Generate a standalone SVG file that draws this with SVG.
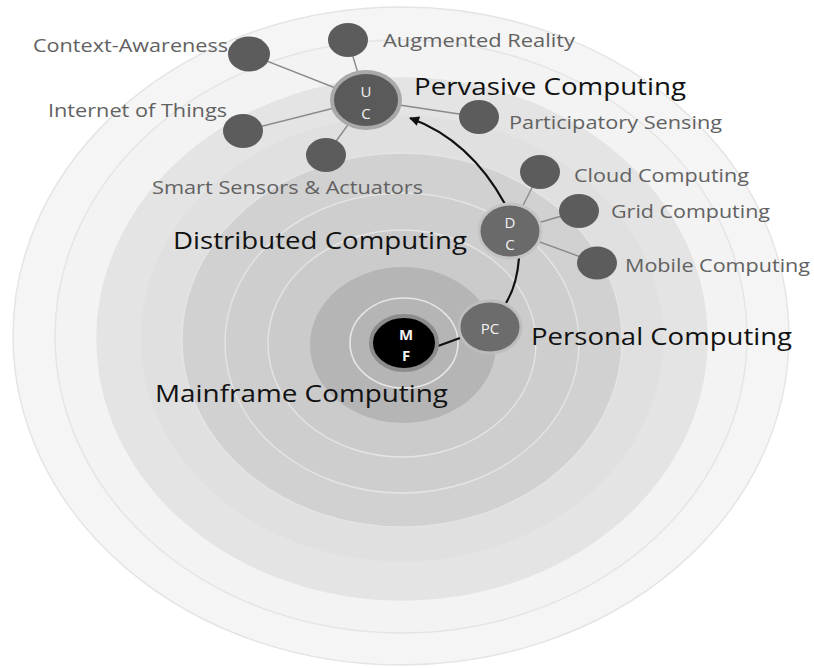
<svg xmlns="http://www.w3.org/2000/svg" width="814" height="668" viewBox="0 0 814 668">
<style>
.ring{stroke:#e4e4e4;stroke-width:1.4}
.sat{fill:#5c5c5c}
.con{stroke:#8a8a8a;stroke-width:1.4;fill:none}
.arc{stroke:#111;stroke-width:2.2;fill:none}
.lbl{font-family:"Open Sans",Lato,sans-serif;font-size:18.5px;fill:#626262}
.big{font-family:"Open Sans",Lato,sans-serif;font-size:23px;fill:#111}
.nt{font-family:"Open Sans",Lato,sans-serif;font-size:15px;fill:#f2f2f2;text-anchor:middle}
</style>
<defs>
<marker id="ah" viewBox="0 0 10 10" refX="9" refY="5" markerUnits="userSpaceOnUse" markerWidth="12" markerHeight="10" orient="auto">
<path d="M0,0 L10,5 L0,10 z" fill="#111"/>
</marker>
</defs>
<rect width="814" height="668" fill="#ffffff"/>
<g id="rings">
<ellipse class="ring" cx="401" cy="336" rx="388" ry="329" fill="#f5f5f5"/>
<ellipse class="ring" cx="401" cy="336.5" rx="346" ry="296.5" fill="#f3f3f3"/>
<ellipse class="ring" cx="402" cy="339" rx="305" ry="261" fill="#e4e4e4"/>
<ellipse class="ring" cx="402" cy="338.5" rx="262" ry="223.5" fill="#e0e0e0"/>
<ellipse class="ring" cx="402" cy="340" rx="220" ry="187" fill="#d1d1d1"/>
<ellipse class="ring" cx="402" cy="343" rx="177" ry="150" fill="#cecece"/>
<ellipse class="ring" cx="402" cy="343.5" rx="134" ry="113.5" fill="#cbcbcb"/>
<ellipse cx="403" cy="345" rx="93" ry="78" fill="#b5b5b5"/>
<ellipse cx="404" cy="343" rx="54" ry="45" fill="none" stroke="#e6e6e6" stroke-width="1.6"/>
</g>
<g id="connectors">
<line class="con" x1="366" y1="100" x2="249" y2="54"/>
<line class="con" x1="366" y1="100" x2="348" y2="40"/>
<line class="con" x1="366" y1="100" x2="243" y2="131"/>
<line class="con" x1="366" y1="100" x2="326" y2="155"/>
<line class="con" x1="366" y1="100" x2="479" y2="117"/>
<line class="con" x1="510" y1="231" x2="540" y2="172"/>
<line class="con" x1="510" y1="231" x2="579" y2="211"/>
<line class="con" x1="510" y1="231" x2="597" y2="263"/>
<line class="arc" x1="438" y1="346" x2="460" y2="338"/>
<path class="arc" d="M 506 303 Q 517 285 519 258"/>
<path class="arc" d="M 505 204 Q 470 140 410 118" marker-end="url(#ah)"/>
</g>
<g id="context-awareness">
<ellipse class="sat" cx="249" cy="54" rx="21" ry="17.5"/>
<text class="lbl" x="33" y="52" textLength="195" lengthAdjust="spacingAndGlyphs">Context-Awareness</text>
</g>
<g id="augmented-reality">
<ellipse class="sat" cx="348" cy="40" rx="20" ry="17"/>
<text class="lbl" x="383" y="47" textLength="192" lengthAdjust="spacingAndGlyphs">Augmented Reality</text>
</g>
<g id="internet-of-things">
<ellipse class="sat" cx="243" cy="131" rx="20" ry="17"/>
<text class="lbl" x="48" y="117" textLength="179" lengthAdjust="spacingAndGlyphs">Internet of Things</text>
</g>
<g id="smart-sensors">
<ellipse class="sat" cx="326" cy="155" rx="20" ry="17"/>
<text class="lbl" x="152" y="194" textLength="271" lengthAdjust="spacingAndGlyphs">Smart Sensors &amp; Actuators</text>
</g>
<g id="participatory-sensing">
<ellipse class="sat" cx="479" cy="117" rx="20" ry="17"/>
<text class="lbl" x="509" y="129" textLength="213" lengthAdjust="spacingAndGlyphs">Participatory Sensing</text>
</g>
<g id="cloud-computing">
<ellipse class="sat" cx="540" cy="172" rx="20" ry="17"/>
<text class="lbl" x="574" y="182" textLength="175" lengthAdjust="spacingAndGlyphs">Cloud Computing</text>
</g>
<g id="grid-computing">
<ellipse class="sat" cx="579" cy="211" rx="20" ry="17"/>
<text class="lbl" x="611" y="218" textLength="159" lengthAdjust="spacingAndGlyphs">Grid Computing</text>
</g>
<g id="mobile-computing">
<ellipse class="sat" cx="597" cy="263" rx="20" ry="16.5"/>
<text class="lbl" x="625" y="272" textLength="185" lengthAdjust="spacingAndGlyphs">Mobile Computing</text>
</g>
<g id="uc">
<ellipse cx="366" cy="100" rx="34" ry="28" fill="#5a5a5a" stroke="#a9a9a9" stroke-width="4"/>
<text class="nt" x="366" y="97" font-size="16">U</text>
<text class="nt" x="366" y="119" font-size="16">C</text>
<text class="big" x="414" y="95" textLength="272" lengthAdjust="spacingAndGlyphs">Pervasive Computing</text>
</g>
<g id="dc">
<ellipse cx="510" cy="231" rx="31" ry="27" fill="#6a6a6a" stroke="#c4c4c4" stroke-width="3"/>
<text class="nt" x="510" y="228" font-size="16">D</text>
<text class="nt" x="510" y="250" font-size="16">C</text>
<text class="big" x="173" y="249" textLength="294" lengthAdjust="spacingAndGlyphs">Distributed Computing</text>
</g>
<g id="pc">
<ellipse cx="490" cy="327" rx="31" ry="26" fill="#6c6c6c" stroke="#bdbdbd" stroke-width="3"/>
<text class="nt" x="490" y="334" font-size="14">PC</text>
<text class="big" x="531" y="345" textLength="261" lengthAdjust="spacingAndGlyphs">Personal Computing</text>
</g>
<g id="mf">
<ellipse cx="404" cy="343" rx="33" ry="27" fill="#000" stroke="#8c8c8c" stroke-width="4"/>
<text class="nt" x="406" y="340" font-weight="bold" fill="#fff">M</text>
<text class="nt" x="406" y="361" font-weight="bold" fill="#fff">F</text>
<text class="big" x="155" y="402" textLength="293" lengthAdjust="spacingAndGlyphs">Mainframe Computing</text>
</g>
</svg>
